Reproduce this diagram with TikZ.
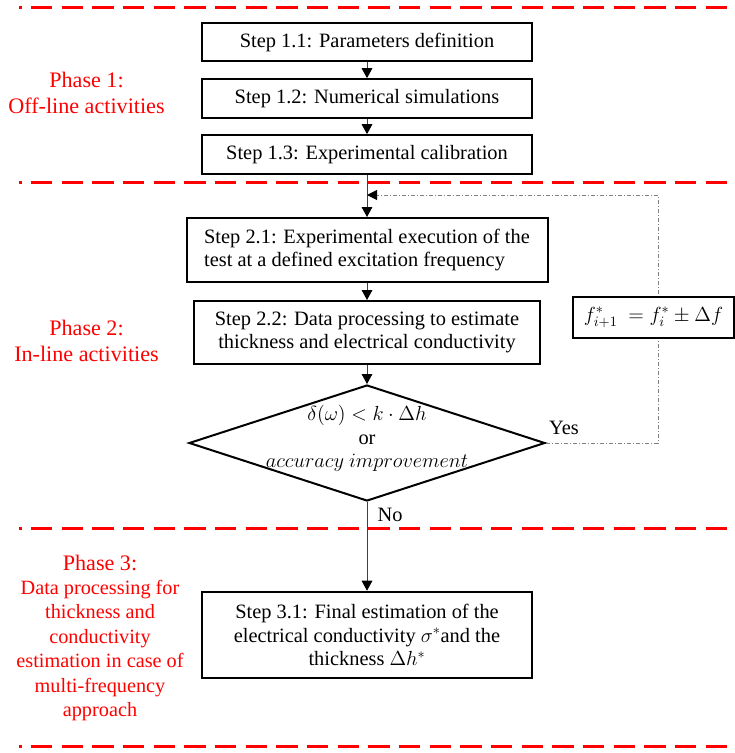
\RequirePackage{fix-cm}
\documentclass[tikz,border=0pt]{standalone}
\usepackage{fontspec}
\setmainfont{Liberation Serif}
\usetikzlibrary{positioning,shapes.geometric,arrows.meta}

\newcommand{\stepfont}{\fontsize{15.3}{17.7}\selectfont}
\newcommand{\phasefont}{\fontsize{16.6}{19.9}\selectfont}
\newcommand{\phasebodyfont}{\fontsize{15.2}{18.4}\selectfont}

\tikzset{
  stepbox/.style={draw, line width=1.5, inner sep=0pt, align=center, font=\stepfont},
  decision/.style={draw, diamond, line width=1.5, inner sep=0pt, minimum width=267pt, minimum height=87pt},
  flow/.style={draw=black!75, line width=0.75, -{Triangle[length=7.5pt,width=8pt,black]}},
  loopline/.style={draw=gray, line width=0.75, dash pattern=on 3pt off 1.5pt on 0.75pt off 1.5pt, -{Triangle[length=7.5pt,width=7.5pt,black]}},
  phaseline/.style={red, line width=2.25, dash pattern=on 16pt off 7pt, dash phase=14pt},
  phaselabel/.style={text=red, align=center, inner sep=0pt, font=\phasefont}
}

\begin{document}
\begin{tikzpicture}[x=0.75pt,y=0.75pt,yscale=-1,xscale=1]
\useasboundingbox (0,0) rectangle (735,753);

% Phase separators
\foreach \y in {7.5,182.7,528.5,746.5}
  \draw [phaseline] (19,\y) -- (735,\y);

% Phase 1
\node [stepbox, minimum width=248pt, minimum height=29pt] (s11) at (367,42) {Step 1.1: Parameters definition};
\node [stepbox, minimum width=248pt, minimum height=29pt] (s12) at (367,98.5) {Step 1.2: Numerical simulations};
\node [stepbox, minimum width=248pt, minimum height=29pt] (s13) at (367,154.5) {Step 1.3: Experimental calibration};

% Phase 2
\node [stepbox, minimum width=270.75pt, minimum height=48pt, align=left] (s21) at (367,250) {Step 2.1: Experimental execution of the\\test at a defined excitation frequency};
\node [stepbox, minimum width=260pt, minimum height=47.25pt] (s22) at (367,332.5) {Step 2.2: Data processing to estimate\\thickness and electrical conductivity};
\node [decision] (dec) at (367,443) {};
\node [font=\stepfont, align=center, inner sep=0pt] (dectext) at (367,438.5) {$\delta(\omega) < k\cdot\Delta h$\\or\\$accuracy\ improvement$};

% Phase 3
\node [stepbox, minimum width=248pt, minimum height=64.9pt] (s31) at (367,635) {Step 3.1: Final estimation of the\\electrical conductivity $\sigma^{*}$and the\\thickness $\Delta h^{*}$};

% Connectors
\draw [flow] (s11) -- (s12);
\draw [flow] (s12) -- (s13);
\draw [flow] (s13) -- (s21);
\draw [flow] (s21) -- (s22);
\draw [flow] (s22) -- (dec);
\draw [flow] (dec) -- (s31);

% Frequency update loop
\coordinate (turn) at (658,195);
\coordinate (join) at (367,195);
\draw [loopline] (dec.east) -| (turn) -- (join);
\node [stepbox, fill=white, minimum width=120.75pt, minimum height=30.75pt] (fbox) at (653.5,317.2) {$f_{i+1}^{*}\ = f_i^{*} \pm \Delta f$};

\node [font=\stepfont, inner sep=0pt] (yes) at (564,428) {Yes};
\node [font=\stepfont, inner sep=0pt] (no) at (390,514.5) {No};

% Phase labels
\node [phaselabel] (ph1) at (86.5,93) {Phase 1:\\Off-line activities};
\node [phaselabel] (ph2) at (86.5,341) {Phase 2:\\In-line activities};
\node [phaselabel] (ph3) at (100,563.3) {Phase 3:};
\node [phaselabel, font=\phasebodyfont] (ph3text) at (100,650.5) {Data processing for\\thickness and\\conductivity\\estimation in case of\\multi-frequency\\approach};

\end{tikzpicture}
\end{document}
